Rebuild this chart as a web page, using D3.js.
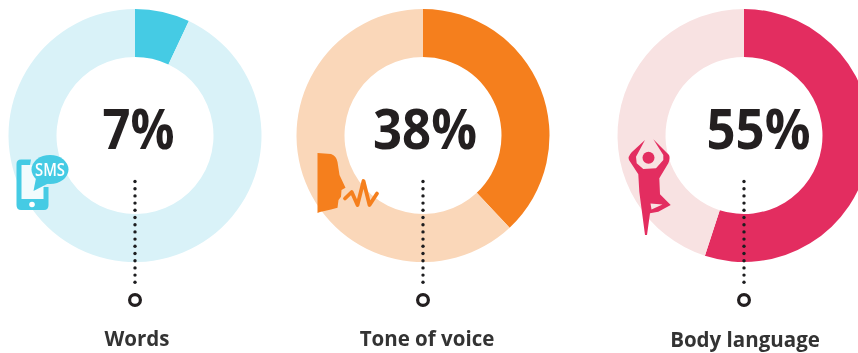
<!DOCTYPE html>
<html>
<head>
<meta charset="utf-8">
<script src="https://cdnjs.cloudflare.com/ajax/libs/d3/7.8.5/d3.min.js"></script>
<style>
html,body{margin:0;padding:0;background:#fff;overflow:hidden}
svg{display:block;filter:blur(0.5px)}
text{font-family:"Open Sans",sans-serif;text-anchor:middle}
</style>
</head>
<body>
<svg id="chart" width="858" height="353"></svg>
<script>
// Share of a message carried by each communication channel
const categories = ["Words", "Tone of voice", "Body language"];
const percentages = [7, 38, 55];
const mainColors = ["#45cbe4", "#f57f1d", "#e32d60"];
const trackColors = ["#d9f2f8", "#fad7b9", "#f8e2e2"];

// Layout per panel
const centersX = [135, 423, 744];
const percentX = [138.5, 425, 758.5];
const percentWidths = [72, 104, 104];
const labelX = [137, 427, 745];
const labelBaselines = [346, 346, 347];

const svg = d3.select("#chart");
const cy = 135.5, outerR = 126.5, innerR = 78.5;
const pie = d3.pie().sort(null);
const arc = d3.arc().innerRadius(innerR).outerRadius(outerR);
const dotOffsets = d3.range(15);

const icons = [
  // phone with SMS bubble
  g => {
    g.append("path").attr("fill", "#f1fbfd")
      .attr("d", "M21 165 H44 V199 H21 Z");
    g.append("path").attr("fill", mainColors[0])
      .attr("d", "M31 159.5 H21 Q16.5 159.5 16.5 164 V205 Q16.5 210 21 210 H44 Q48.5 210 48.5 205 V187 H43.5 V199 H21.5 V165 H30 Z");
    g.append("circle").attr("cx", 32).attr("cy", 204.5).attr("r", 2.8).attr("fill", "#fff");
    g.append("ellipse").attr("cx", 50).attr("cy", 169.5).attr("rx", 18.5).attr("ry", 14.5).attr("fill", mainColors[0]);
    g.append("path").attr("fill", mainColors[0]).attr("d", "M36 178 L33.5 191 L49 183 Z");
    g.append("text").attr("x", 50).attr("y", 176).attr("fill", "#fff")
      .style("font-size", "18px").style("font-weight", 600)
      .attr("textLength", 30).attr("lengthAdjust", "spacingAndGlyphs").text("SMS");
  },
  // speaking profile with a sound wave
  g => {
    g.append("path").attr("fill", mainColors[1])
      .attr("d", "M317.5 153 L331 154 Q336.5 156 337.5 162 L339.5 175 L345.5 187.7 L341.5 190 L341 196.7 L338.5 200 L337.5 207.7 L331 209.5 L320 212 L317.5 213 Z");
    g.append("path").attr("fill", "none").attr("stroke", mainColors[1]).attr("stroke-width", 3.8)
      .attr("stroke-linejoin", "round").attr("stroke-linecap", "round")
      .attr("d", "M345 198.5 L351.7 192 L357.5 205 L363.5 181 L369.5 205 L377 193.5");
  },
  // standing tree pose figure
  g => {
    g.append("circle").attr("cx", 648.5).attr("cy", 157.7).attr("r", 6).attr("fill", mainColors[2]);
    g.append("path").attr("fill", mainColors[2]).attr("fill-rule", "evenodd")
      .attr("d", "M645 140 L631.7 152.3 Q627.5 157 629 160 L638.3 174.3 L639.3 191.7 L645 235 L647 235 L650 213.3 L658.3 211.7 L670.7 205 L660 194.3 L659.3 178.3 L668.3 163.3 Q670.5 158 669 155 L653.3 139.3 L663.3 155 L663.3 160 L656 168.3 L643.3 169 L636.7 163.3 L636 156.7 Z M650.5 203.5 L662.5 204.5 L651.5 209.5 Z");
  }
];

categories.forEach((name, i) => {
  const cx = centersX[i];
  const ring = svg.append("g").attr("transform", `translate(${cx},${cy})`);
  ring.selectAll("path")
    .data(pie([percentages[i], 100 - percentages[i]]))
    .join("path")
    .attr("d", arc)
    .attr("fill", (d, j) => j === 0 ? mainColors[i] : trackColors[i]);

  svg.append("text").attr("x", percentX[i]).attr("y", 148.5)
    .attr("fill", "#231f20")
    .attr("textLength", percentWidths[i]).attr("lengthAdjust", "spacingAndGlyphs")
    .style("font-size", "55px").style("font-weight", 700)
    .text(percentages[i] + "%");

  svg.append("g").attr("fill", "#1d1d1f")
    .selectAll("circle").data(dotOffsets).join("circle")
    .attr("cx", cx).attr("cy", d => 181.5 + d * 7.2).attr("r", 1.7);

  svg.append("circle").attr("cx", cx).attr("cy", 300).attr("r", 5.4)
    .attr("fill", "#fff").attr("stroke", "#231f20").attr("stroke-width", 3.2);

  svg.append("text").attr("x", labelX[i]).attr("y", labelBaselines[i])
    .attr("fill", "#333333")
    .style("font-size", "20.5px").style("font-weight", 700)
    .text(name);

  icons[i](svg.append("g"));
});
</script>
</body>
</html>
